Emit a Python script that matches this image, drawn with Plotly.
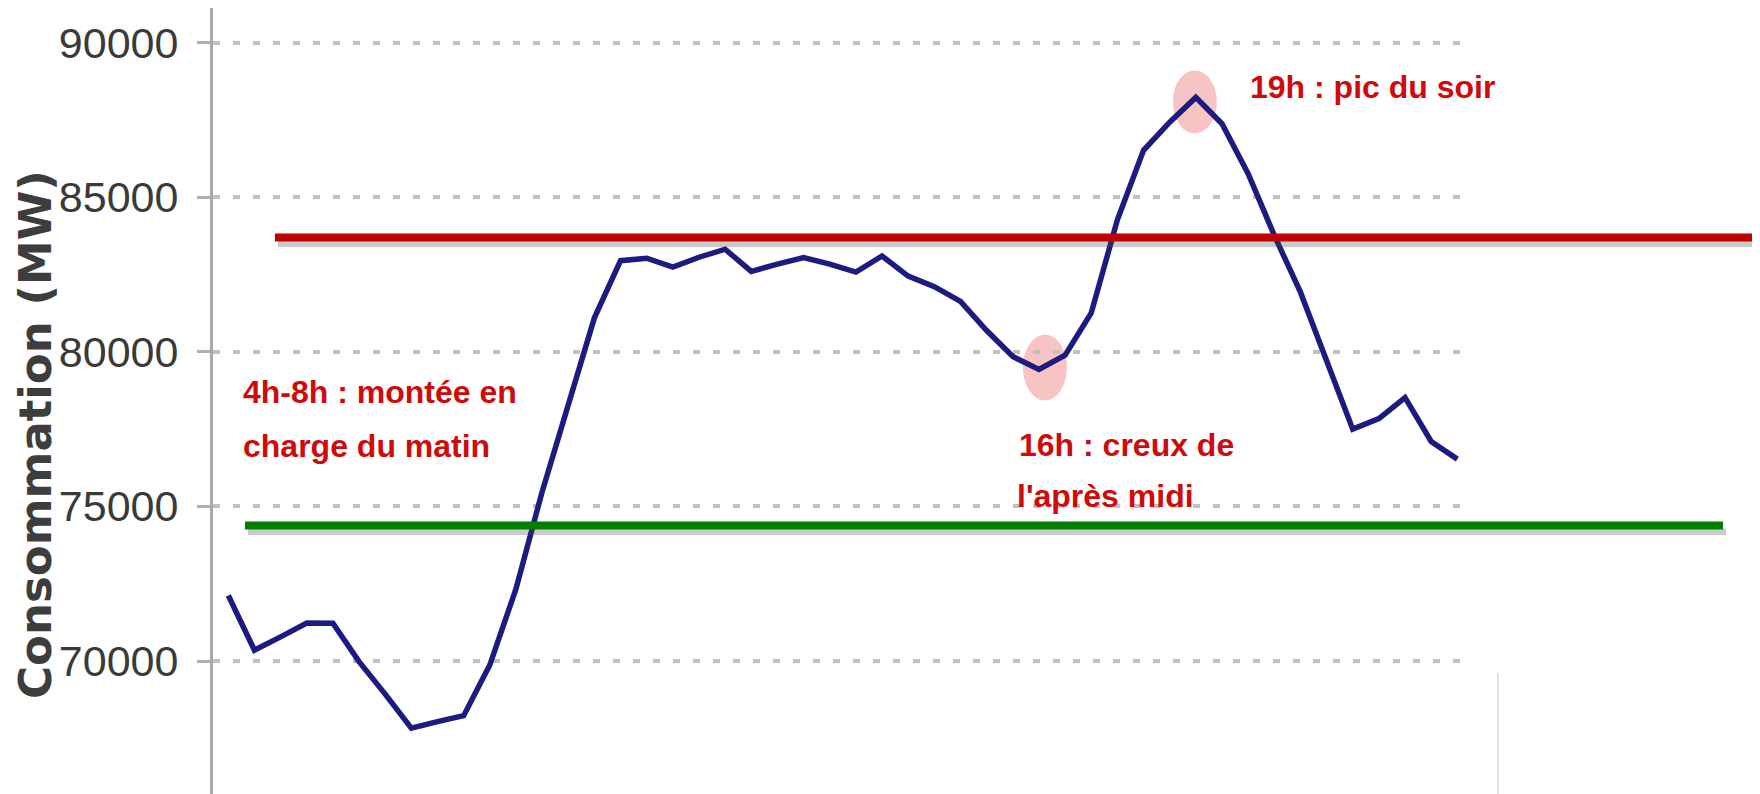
import plotly.graph_objects as go

# ---------------- data ----------------
hours = [0, 0.5, 1, 1.5, 2, 2.5, 3, 3.5, 4, 4.5, 5, 5.5, 6, 6.5, 7, 7.5,
         8, 8.5, 9, 9.5, 10, 10.5, 11, 11.5, 12, 12.5, 13, 13.5, 14, 14.5, 15, 15.5,
         16, 16.5, 17, 17.5, 18, 18.5, 19, 19.5, 20, 20.5, 21, 21.5, 22, 22.5, 23, 23.5]
consommation = [72120, 70350, 70780, 71230, 71220, 69980, 68930, 67830,
                68040, 68230, 69870, 72330, 75470, 78300, 81100, 82950,
                83030, 82740, 83060, 83320, 82600, 82840, 83050, 82840,
                82580, 83100, 82450, 82110, 81630, 80690, 79850, 79430,
                79890, 81260, 84270, 86520, 87430, 88230, 87380, 85760,
                83770, 81930, 79730, 77500, 77840, 78520, 77100, 76530]
tick_values = [70000, 75000, 80000, 85000, 90000]
tick_labels = ["70000", "75000", "80000", "85000", "90000"]
red_level = 83700
green_level = 74380
y_title = "Consommation (MW)"
note_morning = ["4h-8h : montée en", "charge du matin"]
note_trough = ["16h : creux de", "l'après midi"]
note_peak = "19h : pic du soir"

# ---------------- figure ----------------
# The page adds an 8px body margin, so the figure is drawn 8px smaller and
# every target pixel (measured on the reference) is shifted by that offset.
OFF = 8
W, H = 1760 - OFF, 794 - OFF
L_REF, R_REF = 213, 1470     # plot area, reference pixels


def px_x(p):
    return (p - L_REF) / (R_REF - L_REF)


def px_y(p):
    return 1 - (p - OFF) / H


i_peak = max(range(len(consommation)), key=lambda i: consommation[i])
afternoon = [i for i, h in enumerate(hours) if 12 <= h <= 18]
i_trough = min(afternoon, key=lambda i: consommation[i])

fig = go.Figure()
fig.add_trace(go.Scatter(
    x=hours, y=consommation, mode="lines",
    line=dict(color="#1b1b80", width=5.5),
    showlegend=False, hoverinfo="x+y"))

shapes = []
# pink highlight blobs
for idx, (dx0, dx1, dy0, dy1) in ((i_peak, (-23, 21, -36, 27)),
                                  (i_trough, (-16, 28, -31, 35))):
    shapes.append(dict(type="circle", xref="x", yref="y",
                       xsizemode="pixel", ysizemode="pixel",
                       xanchor=hours[idx], yanchor=consommation[idx],
                       x0=dx0, x1=dx1, y0=dy0, y1=dy1,
                       fillcolor="rgba(242,145,145,0.55)", line=dict(width=0),
                       layer="below"))

# horizontal reference bars with drop shadows
for level, color, p0, p1 in ((red_level, "#c00000", 275, 1753),
                             (green_level, "#008000", 245, 1723)):
    shapes.append(dict(type="rect", xref="paper", yref="y", ysizemode="pixel",
                       yanchor=level, x0=px_x(p0 + 3), x1=px_x(p1 + 3),
                       y0=-9.5, y1=-3, fillcolor="rgba(80,80,80,0.30)",
                       line=dict(width=0), layer="above"))
    shapes.append(dict(type="rect", xref="paper", yref="y", ysizemode="pixel",
                       yanchor=level, x0=px_x(p0), x1=px_x(p1),
                       y0=-4, y1=4, fillcolor=color,
                       line=dict(width=0), layer="above"))

# faint frame remnant at lower right
shapes.append(dict(type="line", xref="paper", yref="paper",
                   x0=px_x(1498), x1=px_x(1498), y0=0, y1=px_y(673),
                   line=dict(color="#e2e2e2", width=2)))

RED_SIZE = 32
red_font = dict(family="Liberation Sans Narrow, Liberation Sans, Arial",
                size=RED_SIZE, color="#cf0a0a", weight="bold")


def red_note(text, left, baseline):
    top = baseline - (0.905 * RED_SIZE + 1)
    return dict(text=text, xref="paper", yref="paper", x=px_x(left),
                y=px_y(top), xanchor="left", yanchor="top", align="left",
                showarrow=False, font=red_font)


annotations = [
    dict(text=y_title, xref="paper", yref="paper", x=px_x(35), y=px_y(435),
         xanchor="center", yanchor="middle", textangle=-90, showarrow=False,
         font=dict(family="DejaVu Sans, Arial", size=45, color="#3d3d3d",
                   weight="bold")),
    red_note(note_morning[0], 241, 402),
    red_note(note_morning[1], 241, 456),
    red_note(note_trough[0], 1017, 455),
    red_note(note_trough[1], 1015, 506),
    red_note(note_peak, 1248, 97),
]

fig.update_layout(
    width=W, height=H, autosize=False,
    margin=dict(l=L_REF - OFF, r=(W + OFF) - R_REF, t=0, b=0, pad=0),
    paper_bgcolor="white", plot_bgcolor="white",
    shapes=shapes, annotations=annotations,
    xaxis=dict(range=[-0.2925, 23.742], showgrid=False, zeroline=False,
               showline=False, showticklabels=False, ticks=""),
    yaxis=dict(range=[65698, 91122], tickvals=tick_values, ticktext=tick_labels,
               showgrid=True, gridcolor="#c0c0c0", gridwidth=3.5,
               griddash="7px,13px", zeroline=False,
               showline=True, linecolor="#a8a8a8", linewidth=3,
               ticks="outside", ticklen=13, tickcolor="#b0b0b0", tickwidth=3,
               ticklabelstandoff=10, automargin=False,
               tickfont=dict(family="Liberation Sans, Arial", size=43,
                             color="#3a3a3a")),
)

fig.write_html("out.html")
